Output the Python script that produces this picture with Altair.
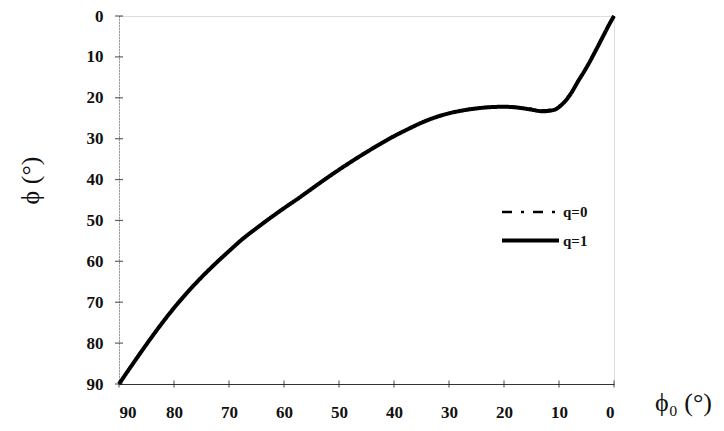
import altair as alt
import pandas as pd

# phi0 (degrees) and phi (degrees)
phi0_vals = [90, 87.5, 85, 82.5, 80, 77.5, 75, 72.5, 70, 67.5, 65, 62.5, 60, 57.5, 55,
             52.5, 50, 47.5, 45, 42.5, 40, 37.5, 35, 32.5, 30, 27.5, 25, 22.5, 20, 17.5,
             15, 13, 11, 9.5, 8, 6.5, 5, 3.5, 2, 1, 0]
phi_q1 = [90, 85.1, 80.3, 75.7, 71.4, 67.5, 63.9, 60.6, 57.5, 54.5, 51.9, 49.4, 47.0,
          44.7, 42.3, 39.9, 37.6, 35.4, 33.3, 31.3, 29.4, 27.7, 26.1, 24.8, 23.8, 23.1,
          22.6, 22.3, 22.2, 22.4, 22.9, 23.3, 23.0, 21.7, 19.3, 15.9, 12.6, 8.9, 5.0, 2.4, 0]
phi_q0 = [90, 85.0, 80.2, 75.6, 71.3, 67.4, 63.8, 60.5, 57.4, 54.4, 51.8, 49.3, 46.9,
          44.6, 42.2, 39.8, 37.5, 35.3, 33.2, 31.2, 29.3, 27.6, 26.0, 24.7, 23.7, 23.0,
          22.5, 22.2, 22.1, 22.3, 22.7, 23.1, 22.8, 21.5, 19.1, 15.8, 12.5, 8.8, 4.9, 2.3, 0]

x_ticks = [90, 80, 70, 60, 50, 40, 30, 20, 10, 0]
y_ticks = [0, 10, 20, 30, 40, 50, 60, 70, 80, 90]
series = ["q=0", "q=1"]

FONT = "Liberation Serif, DejaVu Serif, serif"

df = pd.concat([
    pd.DataFrame({"phi0": phi0_vals, "phi": phi_q0, "q": series[0]}),
    pd.DataFrame({"phi0": phi0_vals, "phi": phi_q1, "q": series[1]}),
])

xs = alt.Scale(domain=[0, 90], reverse=True, nice=False)
ys = alt.Scale(domain=[0, 90], reverse=True, nice=False)

x_axis = alt.Axis(values=x_ticks, ticks=False, grid=False, labelPadding=20,
                  labelFont=FONT, labelFontSize=17, labelFontWeight="bold", labelColor="#111",
                  domainColor="#333", domainWidth=1.2,
                  title="ϕ₀ (°)", titleFont=FONT, titleFontSize=26, titleFontWeight="normal",
                  titleColor="#111", titleX=564, titleY=18, titleAlign="center",
                  titleBaseline="middle", titleAngle=0)
y_axis = alt.Axis(values=y_ticks, ticks=False, grid=False, labelPadding=16,
                  labelFont=FONT, labelFontSize=17, labelFontWeight="bold", labelColor="#111",
                  domainColor="#555", domainWidth=1, domainDash=[1, 2],
                  title="ϕ (°)", titleFont=FONT, titleFontSize=26, titleFontWeight="normal",
                  titleColor="#111", titleX=-89, titleY=164, titleAlign="center",
                  titleBaseline="middle", titleAngle=270)

lines = alt.Chart(df).mark_line(color="black", interpolate="monotone").encode(
    x=alt.X("phi0:Q", scale=xs, axis=x_axis),
    y=alt.Y("phi:Q", scale=ys, axis=y_axis),
    strokeDash=alt.StrokeDash("q:N", scale=alt.Scale(domain=series, range=[[10, 9, 3, 9], [1, 0]]),
                              legend=alt.Legend(title=None, orient="none", legendX=400, legendY=185,
                                                symbolType="M-3,0H3", symbolSize=361,
                                                symbolStrokeWidth=2.5, symbolStrokeColor="black",
                                                labelFont=FONT, labelFontSize=15, labelFontWeight="bold",
                                                labelColor="#111", labelOffset=21, rowPadding=9)),
    strokeWidth=alt.StrokeWidth("q:N", scale=alt.Scale(domain=series, range=[2.5, 4]), legend=None),
    order=alt.Order("q:N"),
)

xt = alt.Chart(pd.DataFrame({"t": x_ticks, "b": [90] * len(x_ticks)})).mark_tick(
    orient="vertical", size=7, thickness=1.2, color="#222").encode(
    x=alt.X("t:Q", scale=xs), y=alt.Y("b:Q", scale=ys))
yt = alt.Chart(pd.DataFrame({"t": y_ticks, "b": [90] * len(y_ticks)})).mark_tick(
    orient="horizontal", size=8, thickness=1.2, color="#222").encode(
    y=alt.Y("t:Q", scale=ys), x=alt.X("b:Q", scale=xs))

chart = alt.layer(lines, xt, yt).properties(
    width=495, height=368,
    autosize=alt.AutoSizeParams(type="none"),
    padding={"left": 111, "top": 8, "right": 100, "bottom": 36},
).configure_view(stroke=None).configure(background="white")

chart.save("out.html", embed_options={"renderer": "svg", "actions": False})
